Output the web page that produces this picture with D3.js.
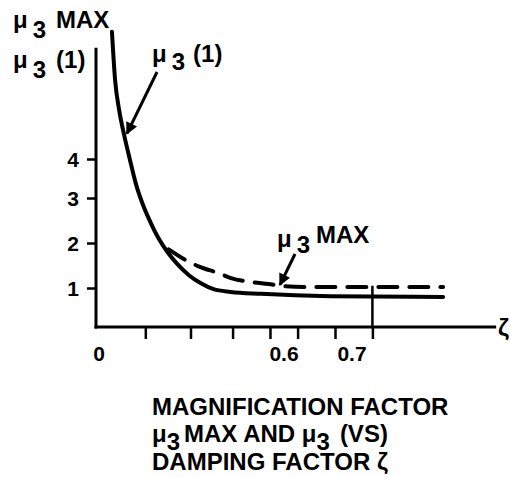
<!DOCTYPE html>
<html lang="en">
<head>
  <meta charset="UTF-8">
  <title>Magnification factor vs damping factor</title>
  <script src="https://d3js.org/d3.v7.min.js"></script>
  <style>
    body {
      margin: 0;
      background: #fff;
    }
    svg {
      display: block;
      font-family: "Liberation Sans", Arial, sans-serif;
      font-weight: bold;
    }
    .curve {
      fill: none;
      stroke: #000;
      stroke-width: 4;
      stroke-linejoin: round;
      stroke-linecap: round;
    }
    .axis-line {
      stroke: #000;
      stroke-width: 3;
    }
  </style>
</head>
<body>
<svg width="510" height="477"></svg>
<script>
  // damping factor (zeta) and magnification values
  const mu1Zeta = [0.048, 0.058, 0.071, 0.087, 0.106, 0.126, 0.148, 0.171, 0.197, 0.226, 0.258, 0.294, 0.332, 0.374, 0.429, 0.526, 0.668, 0.834];
  const mu1Value = [7.26, 6.03, 5.26, 4.62, 3.97, 3.33, 2.84, 2.47, 2.11, 1.8, 1.53, 1.29, 1.11, 0.97, 0.9, 0.85, 0.79, 0.77];

  const muMaxZeta = [0.23, 0.29, 0.33, 0.39, 0.43, 0.5, 0.55, 0.6, 0.65, 0.834];
  const muMaxValue = [1.86, 1.6, 1.47, 1.33, 1.22, 1.13, 1.09, 1.04, 1.02, 1.02];

  const yTicks = [1, 2, 3, 4];
  const xTicks = [0.155, 0.3, 0.435, 0.555, 0.62, 0.675, 0.73];
  const xLabels = [0, 0.6, 0.7];
  const xLabelText = ["0", "0.6", "0.7"];
  const markerZeta = 0.73;

  const svg = d3.select("svg");

  // hand-drawn axes are uneven, so piecewise scales follow the drawn ticks
  const x = d3.scaleLinear().domain([0, 0.6, 0.7]).range([97, 284, 352]);
  const y = d3.scaleLinear().domain([0, 1, 2, 3, 4]).range([327, 288, 243, 198, 159]);

  const defs = svg.append("defs");
  defs.append("marker")
    .attr("id", "arrow")
    .attr("viewBox", "0 0 10 10")
    .attr("refX", 9)
    .attr("refY", 5)
    .attr("markerWidth", 4.5)
    .attr("markerHeight", 4)
    .attr("markerUnits", "strokeWidth")
    .attr("orient", "auto")
    .append("path")
    .attr("d", "M0,0L10,5L0,10Z")
    .attr("fill", "#000");

  // axis lines
  svg.append("line").attr("class", "axis-line")
    .attr("x1", x(0) - 1).attr("x2", x(0) - 1)
    .attr("y1", y(6.85)).attr("y2", y(0) + 1.5);
  svg.append("line").attr("class", "axis-line")
    .attr("x1", x(0) - 2.5).attr("x2", x(0.912))
    .attr("y1", y(0)).attr("y2", y(0));

  // y ticks
  const yAxis = svg.append("g")
    .attr("transform", `translate(${x(0) - 1},0)`)
    .call(d3.axisLeft(y).tickValues(yTicks).tickSize(9).tickPadding(8).tickFormat(d3.format("d")));
  yAxis.select(".domain").remove();
  yAxis.selectAll(".tick line").attr("stroke-width", 2.5);
  yAxis.selectAll(".tick text")
    .attr("font-family", "Liberation Sans, Arial, sans-serif")
    .attr("font-weight", "bold")
    .attr("font-size", 21)
    .attr("dy", "0.35em");

  // x ticks
  const xAxis = svg.append("g")
    .attr("transform", `translate(0,${y(0)})`)
    .call(d3.axisBottom(x).tickValues(xTicks).tickSize(12).tickFormat(""));
  xAxis.select(".domain").remove();
  xAxis.selectAll(".tick line").attr("stroke-width", 2.5);

  svg.selectAll(".xlab")
    .data(xLabels)
    .join("text")
    .attr("class", "xlab")
    .attr("x", (d, i) => x(d) + (i === 0 ? 2 : 0))
    .attr("y", 361)
    .attr("text-anchor", "middle")
    .attr("font-size", 21)
    .text((d, i) => xLabelText[i]);

  // vertical marker at zeta ~0.73
  svg.append("line")
    .attr("x1", x(markerZeta)).attr("x2", x(markerZeta))
    .attr("y1", y(1.05)).attr("y2", y(0))
    .attr("stroke", "#000").attr("stroke-width", 2.5);

  // curves
  const line = d3.line().curve(d3.curveMonotoneX);
  svg.append("path")
    .attr("class", "curve")
    .attr("d", line(mu1Zeta.map((z, i) => [x(z), y(mu1Value[i])])));

  svg.append("path")
    .attr("class", "curve")
    .attr("stroke-dasharray", "19,12")
    .attr("stroke-linecap", "butt")
    .attr("d", line(muMaxZeta.map((z, i) => [x(z), y(muMaxValue[i])])));

  // arrows
  svg.append("line")
    .attr("x1", 157).attr("y1", 72)
    .attr("x2", x(0.096)).attr("y2", y(4.65))
    .attr("stroke", "#000").attr("stroke-width", 3)
    .attr("marker-end", "url(#arrow)");
  svg.append("line")
    .attr("x1", 295).attr("y1", 254)
    .attr("x2", x(0.587)).attr("y2", y(1.07))
    .attr("stroke", "#000").attr("stroke-width", 3)
    .attr("marker-end", "url(#arrow)");

  // labels with subscript 3
  function muLabel(x0, y0, rest, drop, gap) {
    const t = svg.append("text").attr("x", x0).attr("y", y0).attr("font-size", 24);
    t.append("tspan").text("μ");
    t.append("tspan").attr("dx", 5).attr("dy", drop).text("3");
    t.append("tspan").attr("dx", gap).attr("dy", -drop - (rest === "MAX" && y0 > 200 ? 4 : 0)).text(rest);
    return t;
  }

  muLabel(13, 28, "MAX", 10, 10);
  muLabel(13, 68, "(1)", 10, 10);
  muLabel(152, 62, "(1)", 8, 8);
  muLabel(277, 247, "MAX", 6, 6);

  svg.append("text")
    .attr("x", 498).attr("y", 336)
    .attr("font-size", 24)
    .text("ζ");

  // caption
  svg.append("text").attr("x", 152).attr("y", 415).attr("font-size", 24)
    .text("MAGNIFICATION FACTOR");
  const cap2 = svg.append("text").attr("x", 152).attr("y", 442).attr("font-size", 24);
  cap2.append("tspan").text("μ");
  cap2.append("tspan").attr("dy", 8).text("3");
  cap2.append("tspan").attr("dx", 4).attr("dy", -8).text("MAX AND μ");
  cap2.append("tspan").attr("dy", 8).text("3");
  cap2.append("tspan").attr("dx", 10).attr("dy", -8).text("(VS)");
  svg.append("text").attr("x", 152).attr("y", 470).attr("font-size", 24)
    .text("DAMPING FACTOR ζ");
</script>
</body>
</html>
